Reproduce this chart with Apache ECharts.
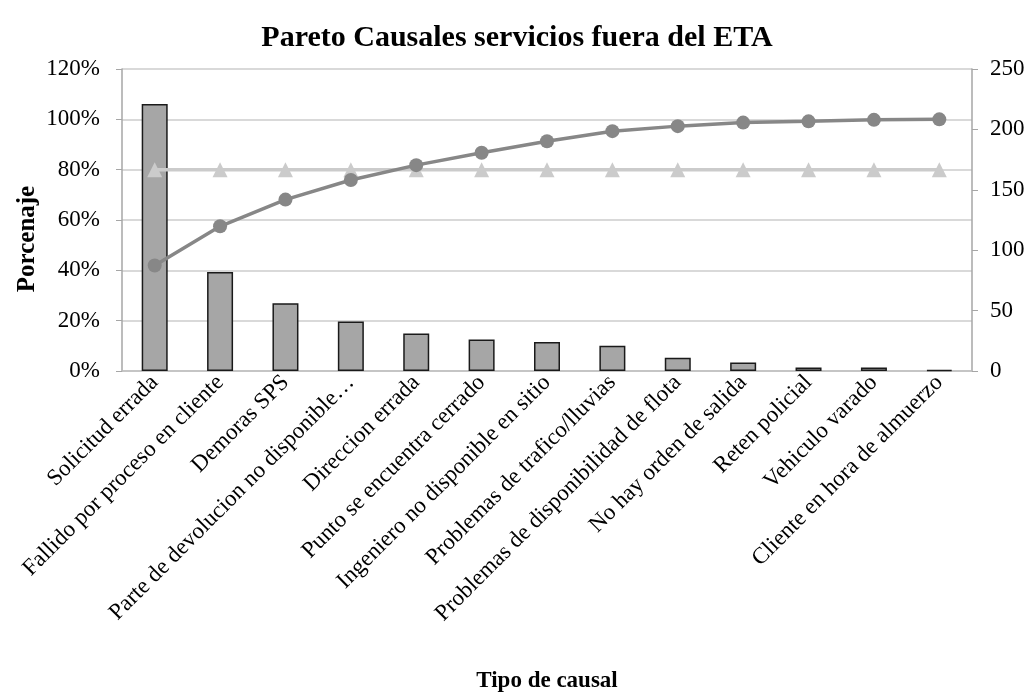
<!DOCTYPE html>
<html>
<head>
<meta charset="utf-8">
<title>Pareto Causales servicios fuera del ETA</title>
<script src="https://cdn.jsdelivr.net/npm/echarts@6/dist/echarts.min.js"></script>
<style>
  html, body { margin: 0; padding: 0; background: #ffffff; }
  #chart { width: 1034px; height: 694px; }
</style>
</head>
<body>
<div id="chart"></div>
<script>
// Causal categories (x axis)
const categories = [
  'Solicitud errada',
  'Fallido por proceso en cliente',
  'Demoras SPS',
  'Parte de devolucion no disponible…',
  'Direccion errada',
  'Punto se encuentra cerrado',
  'Ingeniero no disponible en sitio',
  'Problemas de trafico/lluvias',
  'Problemas de disponibilidad de flota',
  'No hay orden de salida',
  'Reten policial',
  'Vehiculo varado',
  'Cliente en hora de almuerzo'
];

// Number of services per causal (right axis)
const counts = [221, 82, 56, 41, 31, 26, 24, 21, 11, 7, 3, 3, 1];

// Cumulative percentage (left axis)
const cumulativePct = [41.9, 57.5, 68.1, 75.9, 81.8, 86.7, 91.3, 95.3, 97.3, 98.7, 99.2, 99.8, 100];

// 80% reference line (left axis)
const reference80 = [80, 80, 80, 80, 80, 80, 80, 80, 80, 80, 80, 80, 80];

// Tick settings
const pctAxis = { min: 0, max: 120, interval: 20 };
const countAxis = { min: 0, max: 250, interval: 50 };

const serif = '"Liberation Serif", "DejaVu Serif", serif';

const chart = echarts.init(document.getElementById('chart'), null, { renderer: 'canvas' });

chart.setOption({
  backgroundColor: '#ffffff',
  animation: false,
  textStyle: { fontFamily: serif, color: '#000' },
  title: {
    text: 'Pareto Causales servicios fuera del ETA',
    left: 'center',
    top: 18,
    textStyle: { fontFamily: serif, fontSize: 30, fontWeight: 'bold', color: '#000' }
  },
  // Vertical title of the percentage axis
  graphic: [
    {
      type: 'text',
      x: 28,
      y: 239,
      rotation: Math.PI / 2,
      style: {
        text: 'Porcenaje',
        fontFamily: serif,
        fontSize: 25,
        fontWeight: 'bold',
        fill: '#000',
        align: 'center',
        verticalAlign: 'middle'
      }
    }
  ],
  grid: { left: 122, right: 62, top: 69, bottom: 322, containLabel: false },
  xAxis: {
    type: 'category',
    data: categories,
    name: 'Tipo de causal',
    nameLocation: 'middle',
    nameGap: 299,
    nameTextStyle: { fontFamily: serif, fontSize: 23, fontWeight: 'bold', color: '#000' },
    axisLine: { show: true, lineStyle: { color: '#bfbfbf', width: 1.5 } },
    axisTick: { show: false },
    axisLabel: {
      interval: 0,
      rotate: 45,
      margin: 8,
      fontFamily: serif,
      fontSize: 23,
      color: '#000'
    }
  },
  yAxis: [
    {
      type: 'value',
      min: pctAxis.min,
      max: pctAxis.max,
      interval: pctAxis.interval,
      axisLine: { show: true, lineStyle: { color: '#a6a6a6', width: 1.5 } },
      axisTick: { show: true, length: 6, lineStyle: { color: '#a6a6a6' } },
      axisLabel: {
        formatter: '{value}%',
        margin: 22,
        fontFamily: serif,
        fontSize: 23,
        color: '#000'
      },
      splitLine: { show: true, lineStyle: { color: '#d9d9d9', width: 2 } }
    },
    {
      type: 'value',
      position: 'right',
      min: countAxis.min,
      max: countAxis.max,
      interval: countAxis.interval,
      axisLine: { show: true, lineStyle: { color: '#a6a6a6', width: 1.5 } },
      axisTick: { show: true, length: 6, lineStyle: { color: '#a6a6a6' } },
      axisLabel: {
        margin: 18,
        fontFamily: serif,
        fontSize: 23,
        color: '#000'
      },
      splitLine: { show: false }
    }
  ],
  series: [
    {
      name: 'Cantidad',
      type: 'bar',
      yAxisIndex: 1,
      data: counts,
      barWidth: 26,
      itemStyle: { color: '#a6a6a6', borderColor: '#1a1a1a', borderWidth: 1.5 },
      z: 2
    },
    {
      name: '80%',
      type: 'line',
      yAxisIndex: 0,
      data: reference80,
      symbol: 'triangle',
      symbolSize: 15,
      showAllSymbol: true,
      lineStyle: { color: '#cbcbcb', width: 3.5 },
      itemStyle: { color: '#cbcbcb' },
      z: 3
    },
    {
      name: '% acumulado',
      type: 'line',
      yAxisIndex: 0,
      data: cumulativePct,
      symbol: 'circle',
      symbolSize: 14,
      showAllSymbol: true,
      lineStyle: { color: '#878787', width: 3.5 },
      itemStyle: { color: '#878787' },
      z: 4
    }
  ]
});
</script>
</body>
</html>
